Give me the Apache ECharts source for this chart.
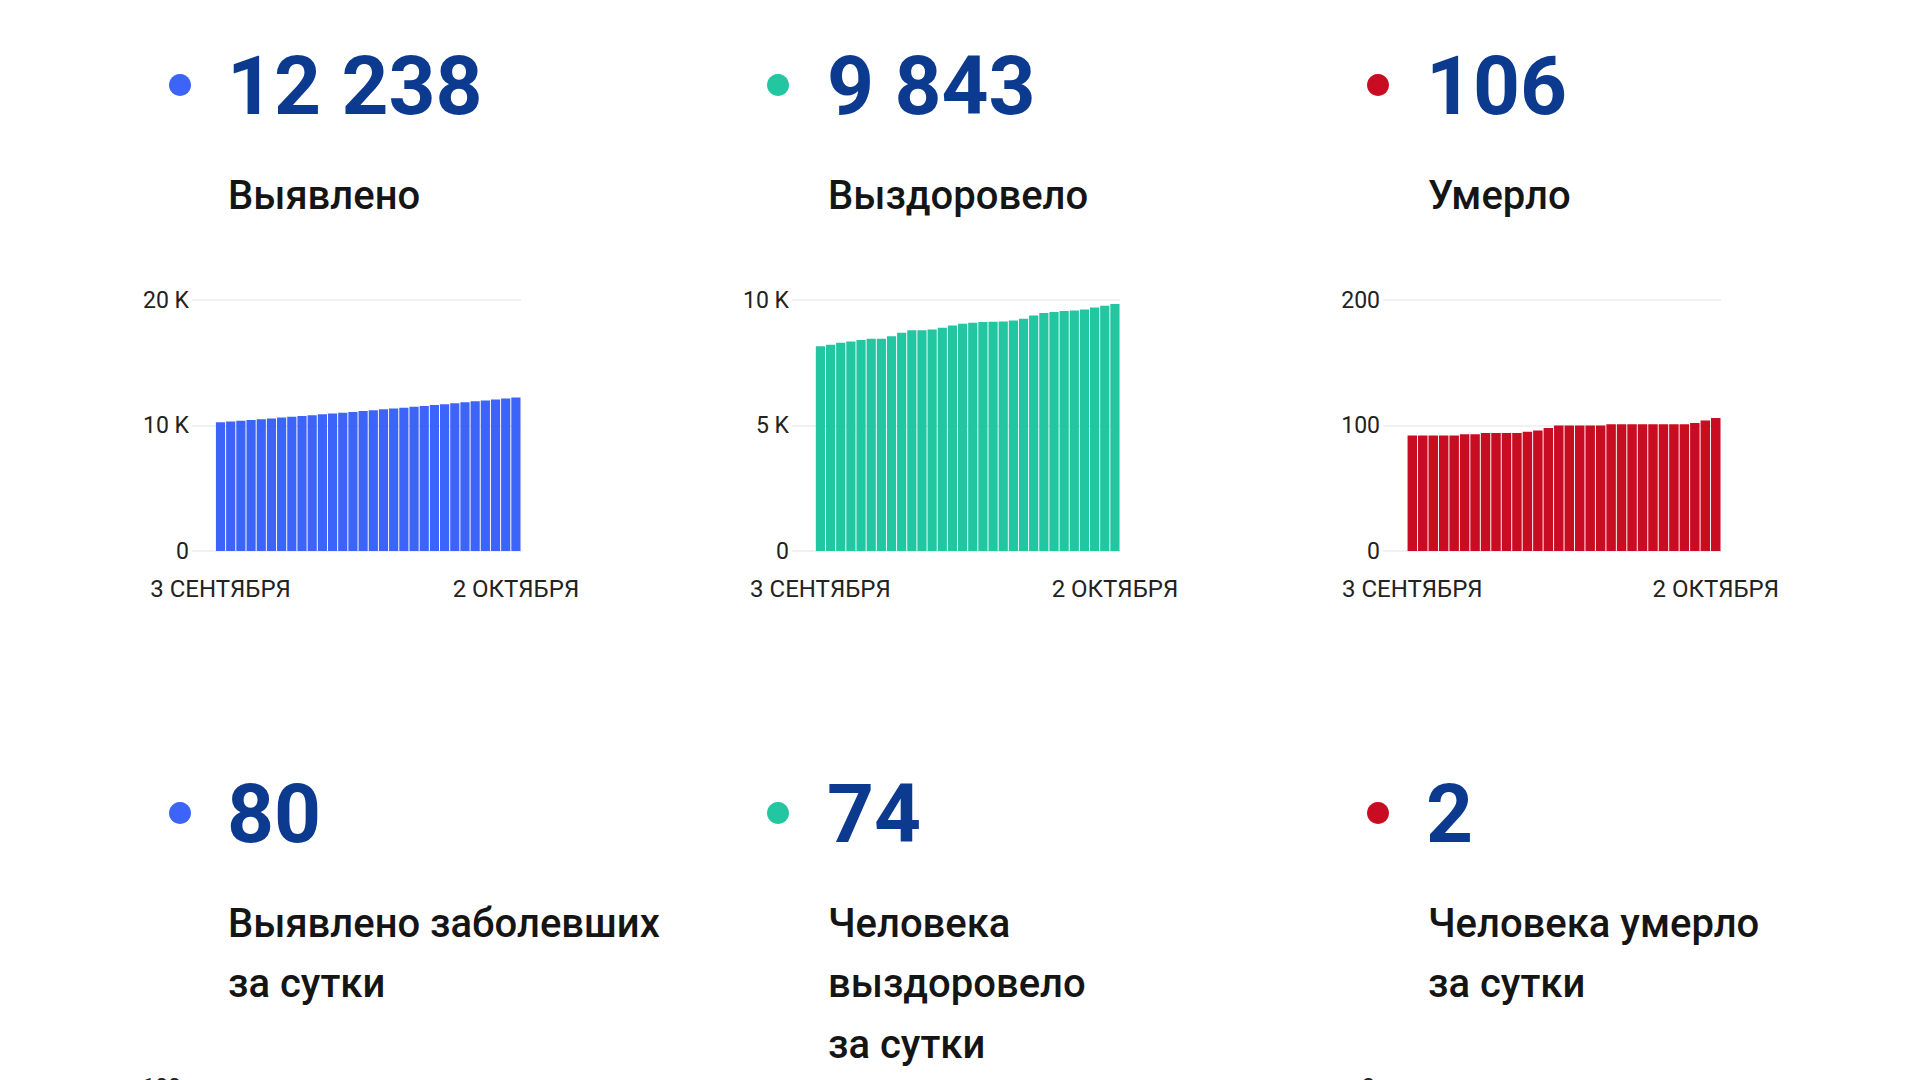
<!DOCTYPE html>
<html>
<head>
<meta charset="utf-8">
<script src="https://cdn.jsdelivr.net/npm/echarts@6/dist/echarts.min.js"></script>
<style>
html,body{margin:0;padding:0;background:#fff;}
#c{width:1920px;height:1080px;}
</style>
</head>
<body>
<div id="c"></div>
<script>
// ---- data ----
const days = ['3 СЕНТЯБРЯ','4 СЕНТЯБРЯ','5 СЕНТЯБРЯ','6 СЕНТЯБРЯ','7 СЕНТЯБРЯ','8 СЕНТЯБРЯ','9 СЕНТЯБРЯ','10 СЕНТЯБРЯ','11 СЕНТЯБРЯ','12 СЕНТЯБРЯ','13 СЕНТЯБРЯ','14 СЕНТЯБРЯ','15 СЕНТЯБРЯ','16 СЕНТЯБРЯ','17 СЕНТЯБРЯ','18 СЕНТЯБРЯ','19 СЕНТЯБРЯ','20 СЕНТЯБРЯ','21 СЕНТЯБРЯ','22 СЕНТЯБРЯ','23 СЕНТЯБРЯ','24 СЕНТЯБРЯ','25 СЕНТЯБРЯ','26 СЕНТЯБРЯ','27 СЕНТЯБРЯ','28 СЕНТЯБРЯ','29 СЕНТЯБРЯ','30 СЕНТЯБРЯ','1 ОКТЯБРЯ','2 ОКТЯБРЯ'];
const xTickLabels = ['3 СЕНТЯБРЯ','2 ОКТЯБРЯ'];
const confirmed = [10260,10320,10380,10440,10500,10565,10630,10695,10760,10825,10890,10955,11020,11085,11150,11215,11285,11350,11420,11490,11560,11630,11700,11775,11850,11925,12000,12080,12158,12238];
const recovered = [8160,8215,8295,8350,8405,8455,8460,8560,8695,8790,8795,8825,8895,8985,9055,9095,9120,9130,9145,9185,9255,9385,9480,9520,9560,9585,9625,9705,9769,9843];
const deaths = [92,92,92,92,92,93,93,94,94,94,94,95,96,98,100,100,100,100,100,101,101,101,101,101,101,101,101,102,104,106];
const totals = [12238, 9843, 106];
const daily = [80, 74, 2];
const totalLabels = ['Выявлено','Выздоровело','Умерло'];
const dailyLabels = [['Выявлено заболевших','за сутки'],['Человека','выздоровело','за сутки'],['Человека умерло','за сутки']];
const yTicksConfirmed = ['0','10 K','20 K'];
const yTicksRecovered = ['0','5 K','10 K'];
const yTicksDeaths = ['0','100','200'];
const yTicksDailyConfirmed = ['0','50','100'];
const yTicksDailyDeaths = ['0','1','2'];

// ---- layout / style ----
const colors = ['#3c64f8','#22c6a0','#c80d22'];
const numColor = '#0b3a8e';
const dotX = [180, 778, 1378];
const numX = [227, 827, 1426];
const labX = [228, 828, 1428];
const FONT = 'Roboto';

const chart = echarts.init(document.getElementById('c'), null, {renderer:'svg'});

const fmt = n => String(n).replace(/\B(?=(\d{3})+(?!\d))/g, ' ');

const gridsDef = [
  {left:192, width:329, yMax:20000, yInt:10000, ticks:yTicksConfirmed, data:confirmed, bw:9.2},
  {left:792, width:328, yMax:10000, yInt:5000, ticks:yTicksRecovered, data:recovered, bw:9.2},
  {left:1383, width:338, yMax:200, yInt:100, ticks:yTicksDeaths, data:deaths, bw:9.5}
];
const XMIN = -2.8, XMAX = days.length - 0.5;

const grid = [], xAxis = [], yAxis = [], series = [];
gridsDef.forEach((g, i) => {
  grid.push({left:g.left, width:g.width, top:300, height:251, containLabel:false});
  xAxis.push({
    type:'value', gridIndex:i, min:XMIN, max:XMAX,
    axisLine:{show:false}, axisTick:{show:false}, splitLine:{show:false},
    axisLabel:{
      customValues: xTickLabels.map(l => days.indexOf(l)),
      formatter: v => days[Math.round(v)],
      color:'#222', fontSize:24, fontFamily:FONT, margin:26
    }
  });
  yAxis.push({
    type:'value', gridIndex:i, min:0, max:g.yMax, interval:g.yInt,
    axisLine:{show:false}, axisTick:{show:false},
    splitLine:{lineStyle:{color:'#ececec', width:1.5}},
    axisLabel:{
      formatter: v => g.ticks[Math.round(v / g.yInt)],
      color:'#222', fontSize:23, fontFamily:FONT, margin:3
    }
  });
  series.push({
    type:'bar', xAxisIndex:i, yAxisIndex:i, barWidth:g.bw,
    itemStyle:{color:colors[i]},
    data: g.data.map((v, k) => [k, v]),
    silent:true, animation:false
  });
});

// axis-only grids of the second row (cut off at the bottom)
const bottomDefs = [
  {left:184, ticks:yTicksDailyConfirmed, max:100, int:50},
  {left:1378, ticks:yTicksDailyDeaths, max:2, int:1}
];
bottomDefs.forEach((b) => {
  const idx = grid.length;
  grid.push({left:b.left, width:330, top:1087, height:250});
  xAxis.push({type:'value', gridIndex:idx, min:0, max:1, show:false});
  yAxis.push({
    type:'value', gridIndex:idx, min:0, max:b.max, interval:b.int,
    axisLine:{show:false}, axisTick:{show:false}, splitLine:{show:false},
    axisLabel:{formatter: v => b.ticks[Math.round(v / b.int)], color:'#222', fontSize:23, fontFamily:FONT, margin:3}
  });
});

const graphic = [];
for (let i = 0; i < 3; i++) {
  graphic.push({type:'circle', shape:{cx:dotX[i], cy:85, r:11}, style:{fill:colors[i]}});
  graphic.push({type:'circle', shape:{cx:dotX[i], cy:813, r:11}, style:{fill:colors[i]}});
  graphic.push({type:'text', x:numX[i], y:86, style:{text:fmt(totals[i]), font:'bold 82px ' + FONT, fill:numColor, verticalAlign:'middle'}});
  graphic.push({type:'text', x:numX[i], y:814, style:{text:fmt(daily[i]), font:'bold 82px ' + FONT, fill:numColor, verticalAlign:'middle'}});
  graphic.push({type:'text', x:labX[i], y:195, style:{text:totalLabels[i], font:'500 40px ' + FONT, fill:'#151515', verticalAlign:'middle'}});
  dailyLabels[i].forEach((line, k) => {
    graphic.push({type:'text', x:labX[i], y:923 + k * 60.5, style:{text:line, font:'500 40px ' + FONT, fill:'#151515', verticalAlign:'middle'}});
  });
}

chart.setOption({
  backgroundColor:'#fff',
  animation:false,
  grid, xAxis, yAxis, series, graphic
});
</script>
</body>
</html>
